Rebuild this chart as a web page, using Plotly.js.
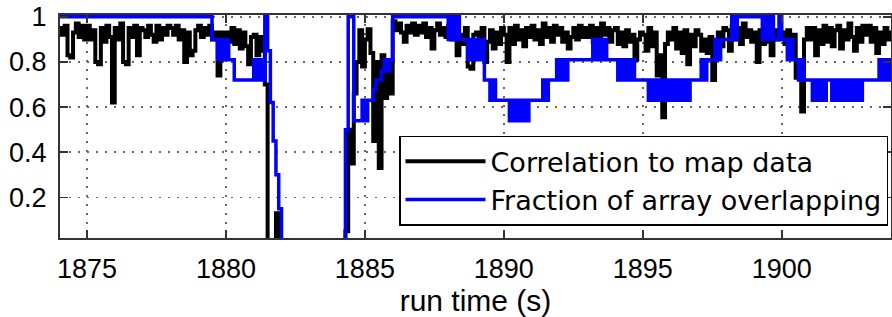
<!DOCTYPE html>
<html><head><meta charset="utf-8">
<script src="https://cdn.plot.ly/plotly-3.0.1.min.js"></script>
<style>html,body{margin:0;padding:0;background:#fff}#chart{width:892px;height:317px}</style>
</head><body><div id="chart"></div>
<script>
// sample clock of the recording (s)
const sampleStart = 1874.0;
const sampleStep = 0.1;

// Correlation to map data (one value per 0.1 s)
const corr = [
 0.95,0.92,0.96,0.83,0.82,0.93,0.97,0.91,0.96,0.90,
 0.96,0.90,0.94,0.80,0.79,0.95,0.89,0.96,0.91,0.62,
 0.95,0.90,0.97,0.80,0.79,0.95,0.91,0.96,0.83,0.95,
 0.94,0.91,0.96,0.92,0.89,0.96,0.90,0.95,0.92,0.96,
 0.95,0.92,0.96,0.90,0.94,0.80,0.93,0.83,0.85,0.94,
 0.96,0.91,0.95,0.92,0.96,0.90,0.93,0.74,0.93,0.89,
 0.93,0.89,0.95,0.88,0.94,0.86,0.93,0.87,0.79,0.91,
 0.92,0.83,0.91,0.85,0.70,0,0,0,0.13,0,
 0,0,0,0,0,0,0,0,0,0,
 0,0,0,0,0,0,0,0,0,0,
 0,0,0,0.05,0.50,0.35,0.66,0.80,0.94,0.78,
 0.90,0.945,0.84,0.45,0.80,0.33,0.83,0.64,0.80,0.66,
 0.98,0.94,0.97,0.93,0.89,0.96,0.93,0.97,0.92,0.96,
 0.93,0.97,0.91,0.95,0.86,0.94,0.97,0.92,0.95,0.91,
 0.96,0.90,0.94,0.83,0.92,0.88,0.95,0.78,0.77,0.92,
 0.93,0.87,0.95,0.80,0.89,0.94,0.86,0.93,0.88,0.95,
 0.92,0.80,0.95,0.88,0.96,0.90,0.94,0.87,0.95,0.91,
 0.96,0.90,0.94,0.88,0.97,0.91,0.95,0.89,0.96,0.92,
 0.95,0.89,0.93,0.86,0.91,0.95,0.90,0.96,0.91,0.95,
 0.91,0.96,0.89,0.95,0.90,0.97,0.92,0.95,0.89,0.94,
 0.95,0.88,0.93,0.87,0.94,0.89,0.92,0.81,0.90,0.93,
 0.92,0.85,0.95,0.87,0.93,0.74,0.83,0.555,0.88,0.93,
 0.90,0.95,0.86,0.93,0.84,0.94,0.79,0.92,0.87,0.94,
 0.92,0.85,0.90,0.84,0.91,0.72,0.89,0.93,0.87,0.95,
 0.94,0.85,0.96,0.90,0.95,0.88,0.97,0.91,0.94,0.89,
 0.93,0.80,0.94,0.88,0.95,0.89,0.83,0.94,0.90,0.93,
 0.93,0.88,0.94,0.86,0.92,0.73,0.80,0.58,0.90,0.95,
 0.90,0.95,0.83,0.94,0.88,0.96,0.89,0.95,0.87,0.94,
 0.96,0.86,0.94,0.90,0.97,0.91,0.85,0.95,0.89,0.96,
 0.92,0.96,0.89,0.95,0.84,0.93,0.88,0.95,0.90,0.93,
 0.94
];

// Fraction of array overlapping (one value per 0.1 s)
const overlap = [
 1,1,1,1,1,1,1,1,1,1,
 1,1,1,1,1,1,1,1,1,1,
 1,1,1,1,1,1,1,1,1,1,
 1,1,1,1,1,1,1,1,1,1,
 1,1,1,1,1,1,1,1,1,1,
 1,1,1,1,1,0.9,0.9,0.81,0.9,0.81,
 0.9,0.81,0.81,0.72,0.72,0.72,0.72,0.72,0.72,0.72,
 0.81,0.72,0.81,0.72,1,0.85,0.62,0.45,0.30,0.15,
 0,0,0,0,0,0,0,0,0,0,
 0,0,0,0,0,0,0,0,0,0,
 0,0,0,0.5,1,1,0.54,0.54,0.54,0.63,
 0.54,0.63,0.63,0.68,0.72,0.72,0.76,0.81,0.76,0.81,
 1,1,1,1,1,1,1,1,1,1,
 1,1,1,1,1,1,1,1,1,1,
 0.9,1,0.9,1,0.9,0.9,0.9,0.81,0.9,0.81,
 0.9,0.81,0.9,0.72,0.72,0.63,0.72,0.63,0.63,0.63,
 0.63,0.63,0.54,0.63,0.54,0.63,0.54,0.63,0.54,0.63,
 0.63,0.63,0.63,0.63,0.72,0.63,0.72,0.72,0.72,0.81,
 0.72,0.81,0.72,0.81,0.81,0.81,0.81,0.81,0.81,0.81,
 0.81,0.81,0.9,0.81,0.9,0.81,0.9,0.81,0.81,0.81,
 0.81,0.72,0.81,0.72,0.81,0.72,0.81,0.72,0.72,0.72,
 0.72,0.72,0.63,0.72,0.63,0.72,0.63,0.72,0.63,0.72,
 0.63,0.72,0.63,0.72,0.63,0.72,0.63,0.72,0.72,0.72,
 0.72,0.81,0.72,0.81,0.81,0.81,0.9,0.81,0.9,0.9,
 0.9,0.9,1,0.9,1,1,1,1,1,1,
 1,1,1,0.9,1,0.9,1,0.9,0.9,1,
 0.9,0.9,0.81,0.9,0.81,0.81,0.72,0.81,0.72,0.72,
 0.72,0.63,0.72,0.63,0.72,0.63,0.72,0.72,0.63,0.72,
 0.63,0.72,0.63,0.72,0.63,0.72,0.63,0.72,0.63,0.72,
 0.72,0.72,0.72,0.72,0.72,0.81,0.72,0.81,0.72,0.81,
 0.72
];

const seriesNames = ['Correlation to map data', 'Fraction of array overlapping'];
const xTickVals = [1875, 1880, 1885, 1890, 1895, 1900];
const yTickVals = [0.2, 0.4, 0.6, 0.8, 1];
const yTickText = ['0.2', '0.4', '0.6', '0.8', '1'];
const xTitle = 'run time (s)';

const FONT = 'Liberation Sans, Arial, Helvetica, sans-serif';
const LEGEND_FONT = 'DejaVu Sans, Liberation Sans, Arial, sans-serif';

const traces = [
  { type: 'scatter', mode: 'lines', name: seriesNames[0],
    x0: sampleStart, dx: sampleStep, y: corr,
    line: { color: '#000000', width: 4, shape: 'hv' } },
  { type: 'scatter', mode: 'lines', name: seriesNames[1],
    x0: sampleStart, dx: sampleStep, y: overlap,
    line: { color: '#0000ff', width: 3.5, shape: 'hv' } }
];

const axisCommon = {
  ticks: 'inside', ticklen: 8, tickwidth: 1.5, tickcolor: '#333',
  mirror: 'allticks', showline: true, linecolor: '#333', linewidth: 2,
  showgrid: true, gridcolor: '#666', gridwidth: 1.5, griddash: '2px,7px',
  zeroline: false, fixedrange: true
};

const layout = {
  width: 892, height: 317,
  margin: { l: 60, r: 1, t: 15, b: 79, pad: 0 },
  paper_bgcolor: '#ffffff', plot_bgcolor: '#ffffff',
  showlegend: true,
  legend: {
    x: 0.9964, xanchor: 'right', y: 0.055, yanchor: 'bottom',
    bgcolor: '#ffffff', bordercolor: '#000', borderwidth: 1.5,
    font: { family: LEGEND_FONT, size: 27, color: '#000' },
    itemwidth: 80, tracegroupgap: 0
  },
  xaxis: Object.assign({}, axisCommon, {
    range: [1874.03, 1903.93],
    tickmode: 'array', tickvals: xTickVals,
    tickfont: { family: FONT, size: 27, color: '#000' },
    ticklabelstandoff: 6,
    title: { text: xTitle, font: { family: FONT, size: 30, color: '#000' }, standoff: 3 }
  }),
  yaxis: Object.assign({}, axisCommon, {
    range: [0.02, 1.008],
    tickmode: 'array', tickvals: yTickVals, ticktext: yTickText,
    tickfont: { family: FONT, size: 27, color: '#000' },
    ticklabelstandoff: 6
  })
};

Plotly.newPlot('chart', traces, layout, { displayModeBar: false, staticPlot: true });
</script>
</body></html>
